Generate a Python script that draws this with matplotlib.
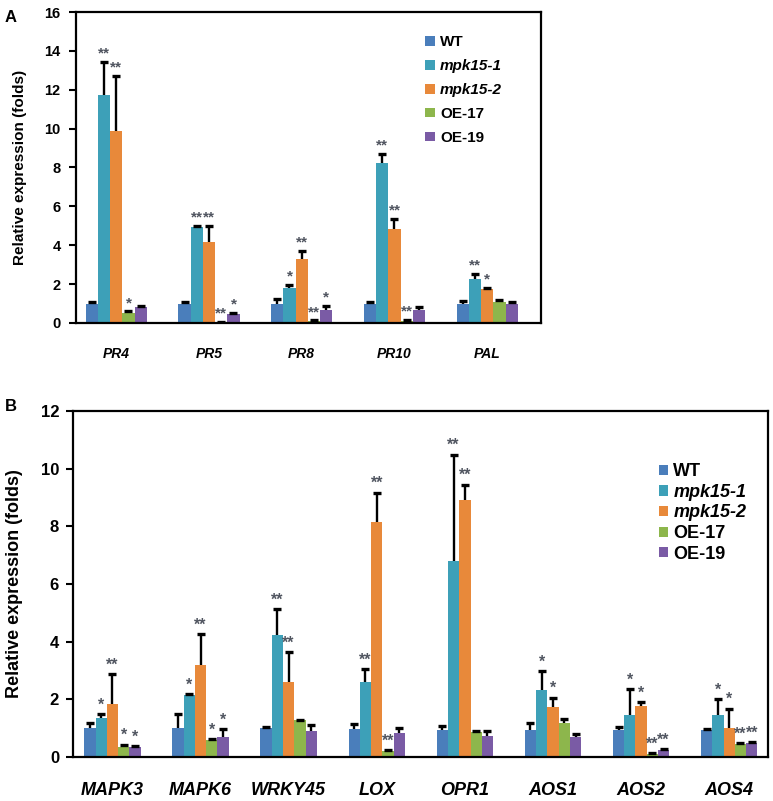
import matplotlib
matplotlib.use("Agg")
import matplotlib.pyplot as plt
import numpy as np

plt.rcParams['font.family'] = ['Liberation Sans', 'DejaVu Sans']

series = ['WT', 'mpk15-1', 'mpk15-2', 'OE-17', 'OE-19']
colors = ['#4A7EBB', '#3DA0B8', '#E8893A', '#8DB64C', '#7A5BA5']

# panel A
genes_a = ['PR4', 'PR5', 'PR8', 'PR10', 'PAL']
wt_a = [1.0, 1.0, 0.98, 1.0, 0.98]
wt_a_err = [0.07, 0.06, 0.27, 0.06, 0.14]
m1_a = [11.72, 4.93, 1.82, 8.23, 2.27]
m1_a_err = [1.72, 0.05, 0.13, 0.45, 0.26]
m2_a = [9.88, 4.15, 3.3, 4.86, 1.74]
m2_a_err = [2.83, 0.85, 0.42, 0.48, 0.06]
oe17_a = [0.52, 0.02, 0.09, 0.1, 1.1]
oe17_a_err = [0.07, 0.02, 0.04, 0.04, 0.06]
oe19_a = [0.81, 0.46, 0.66, 0.66, 1.0]
oe19_a_err = [0.07, 0.06, 0.22, 0.16, 0.06]
stars_a = [['', '', '', '', ''],
           ['**', '**', '*', '**', '**'],
           ['**', '**', '**', '**', '*'],
           ['*', '**', '**', '**', ''],
           ['', '*', '*', '', '']]

# panel B
genes_b = ['MAPK3', 'MAPK6', 'WRKY45', 'LOX', 'OPR1', 'AOS1', 'AOS2', 'AOS4']
wt_b = [1.0, 1.02, 1.0, 0.98, 0.93, 0.93, 0.93, 0.93]
wt_b_err = [0.17, 0.46, 0.04, 0.18, 0.15, 0.26, 0.12, 0.03]
m1_b = [1.35, 2.14, 4.22, 2.6, 6.79, 2.34, 1.47, 1.47]
m1_b_err = [0.14, 0.03, 0.9, 0.45, 3.7, 0.64, 0.9, 0.53]
m2_b = [1.85, 3.2, 2.6, 8.15, 8.9, 1.74, 1.78, 1.02]
m2_b_err = [1.03, 1.05, 1.03, 1.02, 0.55, 0.32, 0.13, 0.66]
oe17_b = [0.35, 0.58, 1.27, 0.22, 0.88, 1.18, 0.12, 0.44]
oe17_b_err = [0.08, 0.03, 0.02, 0.03, 0.03, 0.15, 0.03, 0.03]
oe19_b = [0.36, 0.71, 0.9, 0.85, 0.73, 0.7, 0.25, 0.47]
oe19_b_err = [0.03, 0.26, 0.2, 0.17, 0.18, 0.1, 0.03, 0.04]
stars_b = [['', '', '', '', '', '', '', ''],
           ['*', '*', '**', '**', '**', '*', '*', '*'],
           ['**', '**', '**', '**', '**', '*', '*', '*'],
           ['*', '*', '', '**', '', '', '**', '**'],
           ['*', '*', '', '', '', '', '**', '**']]


def draw_panel(ax, genes, vals, errs, stars, width, star_fs, xlim, ymax, tick_fs, xlab_fs, ylab_fs):
    x = np.arange(len(genes))
    for i in range(len(series)):
        pos = x + (i - 2) * width
        v = np.array(vals[i])
        e = np.array(errs[i])
        ax.bar(pos, v, width, color=colors[i], label=series[i], zorder=2)
        # only the upper half of the error bar, with a cap on top
        ax.errorbar(pos, v, yerr=[np.zeros(len(genes)), e], fmt='none',
                    ecolor='black', elinewidth=1.7, capsize=0, zorder=3)
        ax.plot(pos, v + e, ls='none', marker='_', ms=6, mew=2.4, color='black', zorder=3)
        for j in range(len(genes)):
            if stars[i][j]:
                ax.annotate(stars[i][j], (pos[j], v[j] + e[j]),
                            xytext=(0, 1), textcoords='offset points',
                            ha='center', va='bottom', fontsize=star_fs,
                            color='#505560', fontweight='bold')
    ax.set_xlim(*xlim)
    ax.set_ylim(0, ymax)
    ax.set_yticks(np.arange(0, ymax + 1, 2))
    ax.set_xticks(x)
    ax.set_xticklabels(genes, fontsize=xlab_fs, fontweight='bold', fontstyle='italic')
    for lab in ax.get_yticklabels():
        lab.set_fontsize(tick_fs)
        lab.set_fontweight('bold')
    ax.tick_params(axis='x', length=0)
    ax.tick_params(axis='y', direction='out', length=5, width=1.5)
    for s in ax.spines.values():
        s.set_linewidth(1.6)
    ax.set_ylabel('Relative expression (folds)', fontsize=ylab_fs, fontweight='bold')


fig = plt.figure(figsize=(7.73, 8.01), dpi=100)

axA = fig.add_axes([0.0983, 0.5968, 0.6016, 0.3882])
draw_panel(axA, genes_a, [wt_a, m1_a, m2_a, oe17_a, oe19_a],
           [wt_a_err, m1_a_err, m2_a_err, oe17_a_err, oe19_a_err], stars_a,
           0.132, 11, (-0.434, 4.58), 16, 10.5, 10, 11)
axA.tick_params(axis='x', pad=17)
axA.tick_params(axis='y', pad=6)
axA.yaxis.set_label_coords(-0.105, 0.5)
legA = axA.legend(loc='upper left', bbox_to_anchor=(0.735, 0.95), frameon=False,
                  fontsize=11, handlelength=0.6, handleheight=0.6,
                  handletextpad=0.35, labelspacing=0.65, borderpad=0)
for k, t in enumerate(legA.get_texts()):
    t.set_fontweight('bold')
    if k in (1, 2):
        t.set_fontstyle('italic')

axB = fig.add_axes([0.0944, 0.0549, 0.8991, 0.4320])
draw_panel(axB, genes_b, [wt_b, m1_b, m2_b, oe17_b, oe19_b],
           [wt_b_err, m1_b_err, m2_b_err, oe17_b_err, oe19_b_err], stars_b,
           0.128, 11.5, (-0.448, 7.44), 12, 12, 13, 13)
axB.tick_params(axis='x', pad=18)
axB.tick_params(axis='y', pad=5)
axB.yaxis.set_label_coords(-0.072, 0.5)
legB = axB.legend(loc='upper left', bbox_to_anchor=(0.83, 0.875), frameon=False,
                  fontsize=13, handlelength=0.5, handleheight=0.5,
                  handletextpad=0.3, labelspacing=0.2, borderpad=0)
for k, t in enumerate(legB.get_texts()):
    t.set_fontweight('bold')
    if k in (1, 2):
        t.set_fontstyle('italic')

fig.text(0.006, 0.988, 'A', fontsize=12, fontweight='bold', va='top')
fig.text(0.006, 0.502, 'B', fontsize=12, fontweight='bold', va='top')

fig.savefig('out.png', dpi=100)
